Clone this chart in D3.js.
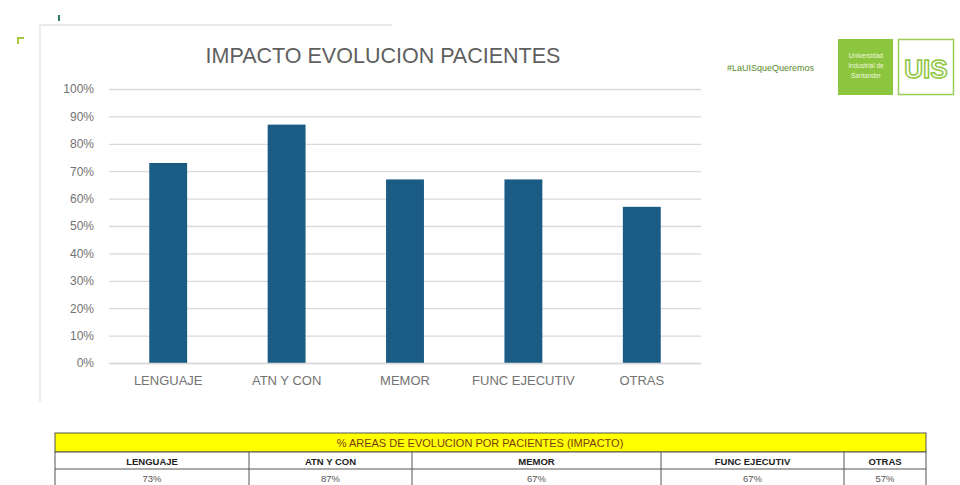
<!DOCTYPE html>
<html><head><meta charset="utf-8">
<script src="https://cdn.jsdelivr.net/npm/d3@7"></script>
<style>body{margin:0;background:#fff}svg{display:block}</style>
</head><body>
<svg id="c" width="960" height="485"></svg>
<script>
const categories = ["LENGUAJE", "ATN Y CON", "MEMOR", "FUNC EJECUTIV", "OTRAS"];
const values = [0.73, 0.87, 0.67, 0.67, 0.57];
const tableLabels = ["73%", "87%", "67%", "67%", "57%"];
const yTicks = [0, 0.1, 0.2, 0.3, 0.4, 0.5, 0.6, 0.7, 0.8, 0.9, 1.0];
const title = "IMPACTO EVOLUCION PACIENTES";
const tableTitle = "% AREAS DE EVOLUCION  POR PACIENTES (IMPACTO)";

const svg = d3.select("#c");
const font = "'Liberation Sans', Arial, sans-serif";

// slide chrome
svg.append("line").attr("x1", 40).attr("x2", 392).attr("y1", 25).attr("y2", 25).attr("stroke", "#e2e2e2").attr("stroke-width", 1.5);
svg.append("line").attr("x1", 40).attr("x2", 40).attr("y1", 25).attr("y2", 402).attr("stroke", "#e6e6e6").attr("stroke-width", 1.5);
svg.append("rect").attr("x", 58).attr("y", 15).attr("width", 2).attr("height", 6).attr("fill", "#2e7d5b");
svg.append("path").attr("d", "M18,44 L18,38 L24,38").attr("fill", "none").attr("stroke", "#a6c83a").attr("stroke-width", 2);

// title
svg.append("text").attr("x", 383).attr("y", 63).attr("text-anchor", "middle")
  .attr("font-family", font).attr("font-size", 21.5).attr("fill", "#5f5f5f").text(title);

const x = d3.scaleBand().domain(categories).range([109, 701]).paddingInner(0.68).paddingOuter(0.34);
const y = d3.scaleLinear().domain([0, 1]).range([363, 89]);

// gridlines
const yAxis = d3.axisLeft(y).tickValues(yTicks).tickFormat(d3.format(".0%")).tickSize(-(701 - 109)).tickPadding(15);
const gy = svg.append("g").attr("transform", "translate(109,0)").call(yAxis);
gy.select(".domain").remove();
gy.selectAll(".tick line").attr("stroke", "#d9d9d9").attr("stroke-width", 1.3);
gy.selectAll(".tick text").attr("font-family", font).attr("font-size", 12).attr("fill", "#737373");

// bars
svg.append("g").selectAll("rect").data(values).join("rect")
  .attr("x", (d, i) => x(categories[i]))
  .attr("width", x.bandwidth())
  .attr("y", d => y(d))
  .attr("height", d => y(0) - y(d))
  .attr("fill", "#1b5c85");

// x axis
const xAxis = d3.axisBottom(x).tickSize(0).tickPadding(13);
const gx = svg.append("g").attr("transform", "translate(0,363)").call(xAxis);
gx.select(".domain").attr("stroke", "#d9d9d9").attr("stroke-width", 1.3);
gx.selectAll(".tick text").attr("font-family", font).attr("font-size", 13).attr("fill", "#737373");

// logos
svg.append("text").attr("x", 727).attr("y", 71).attr("font-family", font).attr("font-size", 9).attr("fill", "#5a8a2a").text("#LaUISqueQueremos");
svg.append("rect").attr("x", 838).attr("y", 39).attr("width", 55).attr("height", 56).attr("fill", "#8cc63f");
["Universidad", "Industrial de", "Santander"].forEach((t, i) =>
  svg.append("text").attr("x", 866).attr("y", 58 + i * 10).attr("text-anchor", "middle").attr("font-family", font).attr("font-size", 6.5).attr("fill", "#eef7dd").text(t));
svg.append("rect").attr("x", 898.5).attr("y", 39.5).attr("width", 55).attr("height", 55).attr("fill", "#fff").attr("stroke", "#9ccc55").attr("stroke-width", 1.5);
svg.append("text").attr("x", 926).attr("y", 78).attr("text-anchor", "middle").attr("font-family", font).attr("font-weight", "bold").attr("font-size", 26).attr("fill", "#fff").attr("stroke", "#8cc63f").attr("stroke-width", 1.5).text("UIS");

// table
const colEdges = [55, 249, 412, 661, 844, 926];
const tTop = 433, tH1 = 452, tH2 = 469, tBot = 486;
svg.append("rect").attr("x", 55).attr("y", tTop).attr("width", 926 - 55).attr("height", tH1 - tTop).attr("fill", "#ffff00").attr("stroke", "#555").attr("stroke-width", 1);
svg.append("text").attr("x", 480).attr("y", 446.5).attr("text-anchor", "middle").attr("font-family", font).attr("font-size", 11).attr("fill", "#7a3b12").text(tableTitle);
svg.append("rect").attr("x", 55).attr("y", tH1).attr("width", 926 - 55).attr("height", tBot - tH1).attr("fill", "#fff").attr("stroke", "#555").attr("stroke-width", 1);
svg.append("line").attr("x1", 55).attr("x2", 926).attr("y1", tH2).attr("y2", tH2).attr("stroke", "#555");
colEdges.slice(1, -1).forEach(cx => svg.append("line").attr("x1", cx).attr("x2", cx).attr("y1", tH1).attr("y2", tBot).attr("stroke", "#555"));
categories.forEach((c, i) => {
  const cx = (colEdges[i] + colEdges[i + 1]) / 2;
  svg.append("text").attr("x", cx).attr("y", 464.5).attr("text-anchor", "middle").attr("font-family", font).attr("font-weight", "bold").attr("font-size", 9.5).attr("fill", "#222").text(c);
  svg.append("text").attr("x", cx).attr("y", 481.5).attr("text-anchor", "middle").attr("font-family", font).attr("font-size", 9.5).attr("fill", "#555").text(tableLabels[i]);
});
</script>
</body></html>
